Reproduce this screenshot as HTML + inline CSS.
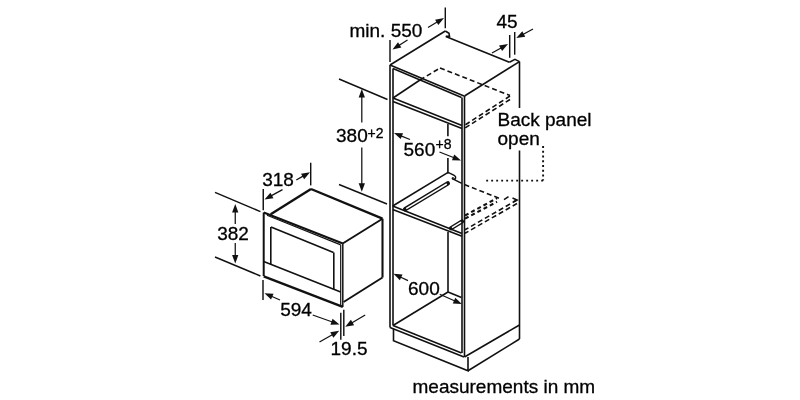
<!DOCTYPE html>
<html><head><meta charset="utf-8"><style>
html,body{margin:0;padding:0;background:#fff;}
body{width:800px;height:400px;overflow:hidden;}
svg{display:block;will-change:transform;filter:blur(0.3px);}
text{font-family:"Liberation Sans",sans-serif;fill:#000;stroke:#000;stroke-width:0.3px;}
</style></head><body>
<svg width="800" height="400" viewBox="0 0 800 400">
<rect width="800" height="400" fill="#fff"/>
<line x1="390" y1="65" x2="390" y2="327.5" stroke="#111" stroke-width="1.6"/>
<line x1="464.5" y1="96" x2="464.5" y2="357" stroke="#111" stroke-width="1.6"/>
<line x1="390" y1="65" x2="464" y2="96" stroke="#111" stroke-width="1.6"/>
<line x1="390" y1="327.5" x2="464" y2="357" stroke="#111" stroke-width="1.6"/>
<line x1="393" y1="68.5" x2="393" y2="325.5" stroke="#111" stroke-width="1.6"/>
<line x1="462" y1="97.5" x2="462" y2="353" stroke="#111" stroke-width="1.6"/>
<line x1="393" y1="68.5" x2="461.5" y2="97.5" stroke="#111" stroke-width="1.6"/>
<line x1="393" y1="325.5" x2="461.5" y2="353" stroke="#111" stroke-width="1.6"/>
<line x1="464.5" y1="96" x2="519.5" y2="61.6" stroke="#111" stroke-width="1.6"/>
<line x1="519.5" y1="61.6" x2="519.5" y2="108" stroke="#111" stroke-width="1.6"/>
<line x1="519.5" y1="150.5" x2="519.5" y2="339" stroke="#111" stroke-width="1.6"/>
<line x1="464.5" y1="357" x2="519.5" y2="325" stroke="#111" stroke-width="1.6"/>
<line x1="390" y1="65" x2="445.3" y2="31" stroke="#111" stroke-width="1.6"/>
<polyline points="445.3,31 449,33.2 449.5,36.4 445.8,36.2" fill="none" stroke="#111" stroke-width="1.6" stroke-linejoin="miter"/>
<line x1="445.8" y1="36.4" x2="509.4" y2="62.2" stroke="#111" stroke-width="1.6"/>
<polyline points="509.4,62.2 515,59.4 519.5,61.6" fill="none" stroke="#111" stroke-width="1.6" stroke-linejoin="miter"/>
<polyline points="393.5,329 393.5,340.8 468,370.8 468,357" fill="none" stroke="#111" stroke-width="1.6" stroke-linejoin="miter"/>
<line x1="468" y1="370.8" x2="519.5" y2="339" stroke="#111" stroke-width="1.6"/>
<line x1="393" y1="98" x2="462" y2="125.5" stroke="#111" stroke-width="1.6"/>
<line x1="393" y1="101.5" x2="462" y2="128.5" stroke="#111" stroke-width="1.6"/>
<line x1="393" y1="98" x2="420" y2="80" stroke="#111" stroke-width="1.6"/>
<line x1="420" y1="80" x2="440" y2="68" stroke="#111" stroke-width="1.6" stroke-dasharray="5,3"/>
<line x1="440" y1="68" x2="510" y2="95.5" stroke="#111" stroke-width="1.6" stroke-dasharray="5,3"/>
<line x1="510" y1="96" x2="465" y2="125" stroke="#111" stroke-width="1.6" stroke-dasharray="5,3"/>
<line x1="510" y1="99.5" x2="465" y2="128" stroke="#111" stroke-width="1.6" stroke-dasharray="5,3"/>
<line x1="447.9" y1="124" x2="447.9" y2="136.3" stroke="#111" stroke-width="1.6"/>
<line x1="447.9" y1="158" x2="447.9" y2="173.5" stroke="#111" stroke-width="1.6"/>
<line x1="392.7" y1="206" x2="462" y2="233.6" stroke="#111" stroke-width="1.6"/>
<line x1="392.7" y1="209.5" x2="462" y2="236.3" stroke="#111" stroke-width="1.6"/>
<line x1="392.7" y1="206" x2="448.1" y2="172.4" stroke="#111" stroke-width="1.6"/>
<path d="M448.1,172.4 L454.2,175.3 C456.5,176.5 456,179.8 453.2,179.2 C451.8,178.9 452.3,177.6 453.6,177.9 M453.2,179.2 L461.8,183.4" fill="none" stroke="#111" stroke-width="1.5"/>
<line x1="464.5" y1="184.6" x2="501" y2="199" stroke="#111" stroke-width="1.6" stroke-dasharray="5,3"/>
<line x1="504" y1="199.6" x2="508.5" y2="196.6" stroke="#111" stroke-width="1.6"/>
<polyline points="512.5,198.1 517,200 513.2,201.9" fill="none" stroke="#111" stroke-width="1.6" stroke-linejoin="miter"/>
<line x1="517" y1="200" x2="465" y2="229.8" stroke="#111" stroke-width="1.6" stroke-dasharray="5,3"/>
<line x1="517" y1="203.5" x2="465" y2="233.3" stroke="#111" stroke-width="1.6" stroke-dasharray="5,3"/>
<line x1="405.2" y1="209.2" x2="447.8" y2="183.4" stroke="#111" stroke-width="4.4" stroke-linecap="round"/>
<line x1="406.2" y1="208.6" x2="446.8" y2="184.0" stroke="#fff" stroke-width="1.5"/>
<line x1="451" y1="228.2" x2="462" y2="221.5" stroke="#111" stroke-width="4.2" stroke-linecap="round"/>
<line x1="452" y1="227.6" x2="461" y2="222.1" stroke="#fff" stroke-width="1.4"/>
<line x1="465" y1="215.5" x2="497" y2="198.2" stroke="#111" stroke-width="2.1" stroke-dasharray="4,3"/>
<line x1="465" y1="218.6" x2="497" y2="201.8" stroke="#111" stroke-width="2.1" stroke-dasharray="4,3"/>
<line x1="448" y1="232" x2="448" y2="292" stroke="#111" stroke-width="1.6"/>
<line x1="448" y1="292" x2="461.5" y2="297.5" stroke="#111" stroke-width="1.6"/>
<line x1="448" y1="292" x2="393" y2="325.5" stroke="#111" stroke-width="1.6"/>
<line x1="263.7" y1="212.5" x2="263.7" y2="276" stroke="#111" stroke-width="2.0"/>
<line x1="263.7" y1="212.4" x2="342.8" y2="243.6" stroke="#111" stroke-width="2.1"/>
<line x1="267" y1="215.3" x2="340.7" y2="244.9" stroke="#111" stroke-width="1.15"/>
<line x1="263.7" y1="276.3" x2="342.8" y2="306.9" stroke="#111" stroke-width="2.4"/>
<line x1="342.8" y1="243.6" x2="342.8" y2="306.9" stroke="#111" stroke-width="1.5"/>
<line x1="340.7" y1="244.9" x2="340.7" y2="306" stroke="#111" stroke-width="1.2"/>
<line x1="270.8" y1="227" x2="270.8" y2="264.4" stroke="#111" stroke-width="1.6"/>
<line x1="271" y1="227" x2="333.5" y2="252.5" stroke="#111" stroke-width="1.6"/>
<line x1="333.8" y1="252.5" x2="333.8" y2="289" stroke="#111" stroke-width="1.6"/>
<line x1="263.7" y1="261.6" x2="340.7" y2="292" stroke="#111" stroke-width="1.6"/>
<line x1="270.7" y1="214.2" x2="311" y2="189" stroke="#111" stroke-width="2.4"/>
<line x1="311" y1="189" x2="382.5" y2="218.7" stroke="#111" stroke-width="2.4"/>
<line x1="382.5" y1="218.7" x2="342.7" y2="243.5" stroke="#111" stroke-width="1.9"/>
<line x1="382.5" y1="218.7" x2="382.5" y2="277.5" stroke="#111" stroke-width="2.1"/>
<line x1="382.5" y1="277.5" x2="343.6" y2="302" stroke="#111" stroke-width="1.9"/>
<line x1="215" y1="192.4" x2="260.4" y2="211.6" stroke="#111" stroke-width="1.45"/>
<line x1="215" y1="257" x2="260.4" y2="276" stroke="#111" stroke-width="1.45"/>
<line x1="235.25" y1="224" x2="235.25" y2="211.5" stroke="#111" stroke-width="1.25"/>
<polygon points="235.25,204.00 238.40,212.50 232.10,212.50" fill="#111"/>
<line x1="235.25" y1="243" x2="235.25" y2="256.0" stroke="#111" stroke-width="1.25"/>
<polygon points="235.25,263.50 232.10,255.00 238.40,255.00" fill="#111"/>
<text x="233" y="239.6" font-size="19" text-anchor="middle">382</text>
<line x1="263.25" y1="188.9" x2="263.25" y2="210.2" stroke="#111" stroke-width="1.45"/>
<line x1="310.7" y1="162.75" x2="310.7" y2="185.4" stroke="#111" stroke-width="1.45"/>
<line x1="282.5" y1="189.6" x2="271.0716193150748" y2="195.88560937670883" stroke="#111" stroke-width="1.25"/>
<polygon points="264.50,199.50 270.43,192.64 273.47,198.16" fill="#111"/>
<line x1="296.3" y1="180" x2="303.4823292050274" y2="175.91079067159023" stroke="#111" stroke-width="1.25"/>
<polygon points="310.00,172.20 304.17,179.14 301.05,173.67" fill="#111"/>
<text x="278" y="185.5" font-size="19" text-anchor="middle">318</text>
<line x1="263" y1="280" x2="263" y2="300" stroke="#111" stroke-width="1.45"/>
<line x1="340.8" y1="312.7" x2="340.8" y2="339.7" stroke="#111" stroke-width="1.45"/>
<line x1="343.8" y1="309.7" x2="343.8" y2="336" stroke="#111" stroke-width="1.45"/>
<line x1="280" y1="300" x2="271.3843650148821" y2="296.2758222967555" stroke="#111" stroke-width="1.25"/>
<polygon points="264.50,293.30 273.55,293.78 271.05,299.56" fill="#111"/>
<line x1="312.7" y1="315" x2="332.43098780107397" y2="321.9941934369479" stroke="#111" stroke-width="1.25"/>
<polygon points="339.50,324.50 330.44,324.63 332.54,318.69" fill="#111"/>
<text x="296" y="315.5" font-size="19" text-anchor="middle">594</text>
<line x1="365.2" y1="315" x2="351.6595194319273" y2="322.98888353516287" stroke="#111" stroke-width="1.25"/>
<polygon points="345.20,326.80 350.92,319.77 354.12,325.19" fill="#111"/>
<line x1="319.5" y1="342" x2="332.69428190377306" y2="334.4317063191555" stroke="#111" stroke-width="1.25"/>
<polygon points="339.20,330.70 333.39,337.66 330.26,332.20" fill="#111"/>
<text x="349" y="355" font-size="19" text-anchor="middle">19.5</text>
<line x1="339" y1="79" x2="387.5" y2="99.5" stroke="#111" stroke-width="1.45"/>
<line x1="339" y1="184.5" x2="387" y2="204" stroke="#111" stroke-width="1.45"/>
<line x1="361.8" y1="122.5" x2="361.8" y2="96.5" stroke="#111" stroke-width="1.25"/>
<polygon points="361.80,89.00 364.95,97.50 358.65,97.50" fill="#111"/>
<line x1="361.8" y1="147.5" x2="361.8" y2="184.3" stroke="#111" stroke-width="1.25"/>
<polygon points="361.80,191.80 358.65,183.30 364.95,183.30" fill="#111"/>
<text x="336" y="142.2" font-size="19" text-anchor="start">380</text>
<text x="367.5" y="137.5" font-size="14" text-anchor="start">+2</text>
<line x1="410" y1="139.5" x2="400.9484993284173" y2="135.82282785216952" stroke="#111" stroke-width="1.25"/>
<polygon points="394.00,133.00 403.06,133.28 400.69,139.12" fill="#111"/>
<line x1="439.5" y1="152" x2="454.0252945986955" y2="157.74255832971681" stroke="#111" stroke-width="1.25"/>
<polygon points="461.00,160.50 451.94,160.30 454.25,154.45" fill="#111"/>
<text x="403.5" y="155.5" font-size="19" text-anchor="start">560</text>
<text x="435.5" y="149" font-size="14" text-anchor="start">+8</text>
<line x1="408" y1="280.6" x2="400.29037950132954" y2="276.9844538351063" stroke="#111" stroke-width="1.25"/>
<polygon points="393.50,273.80 402.53,274.56 399.86,280.26" fill="#111"/>
<line x1="439.75" y1="294.3" x2="454.9349077349237" y2="300.97998208747214" stroke="#111" stroke-width="1.25"/>
<polygon points="461.80,304.00 452.75,303.46 455.29,297.69" fill="#111"/>
<text x="408" y="294.7" font-size="19" text-anchor="start">600</text>
<line x1="390" y1="40" x2="390" y2="62" stroke="#111" stroke-width="1.45"/>
<line x1="445.3" y1="7.5" x2="445.3" y2="28.25" stroke="#111" stroke-width="1.45"/>
<line x1="407.5" y1="40" x2="398.8361430666567" y2="45.487109391117414" stroke="#111" stroke-width="1.25"/>
<polygon points="392.50,49.50 398.00,42.29 401.37,47.61" fill="#111"/>
<line x1="428" y1="27.5" x2="437.5510894211945" y2="21.82904065616577" stroke="#111" stroke-width="1.25"/>
<polygon points="444.00,18.00 438.30,25.05 435.08,19.63" fill="#111"/>
<text x="349.5" y="37" font-size="19" text-anchor="start">min. 550</text>
<line x1="509.7" y1="35" x2="509.7" y2="57.8" stroke="#111" stroke-width="1.45"/>
<line x1="514.7" y1="32" x2="514.7" y2="54.7" stroke="#111" stroke-width="1.45"/>
<line x1="492" y1="53" x2="501.4631834715659" y2="47.676959297244196" stroke="#111" stroke-width="1.25"/>
<polygon points="508.00,44.00 502.14,50.91 499.05,45.42" fill="#111"/>
<line x1="533" y1="29" x2="522.9022633717914" y2="34.441893991250154" stroke="#111" stroke-width="1.25"/>
<polygon points="516.30,38.00 522.29,31.19 525.28,36.74" fill="#111"/>
<text x="496.5" y="28.3" font-size="19" text-anchor="start">45</text>
<text x="497.5" y="126.3" font-size="19" text-anchor="start">Back panel</text>
<text x="497.5" y="145" font-size="19" text-anchor="start">open</text>
<line x1="543.1" y1="146" x2="543.1" y2="180.6" stroke="#111" stroke-width="1.9" stroke-dasharray="1.9,2.85"/>
<line x1="543.1" y1="180.6" x2="485.5" y2="180.6" stroke="#111" stroke-width="1.9" stroke-dasharray="1.9,3.1"/>
<text x="412.5" y="393" font-size="19" text-anchor="start">measurements in mm</text>
</svg>
</body></html>
